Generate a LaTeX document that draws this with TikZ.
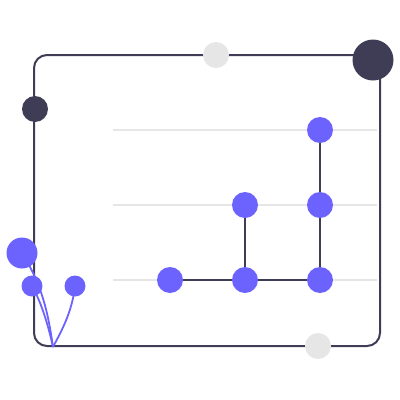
\documentclass[tikz,border=0pt]{standalone}
\definecolor{darkc}{HTML}{3F3D56}
\definecolor{purp}{HTML}{6C63FF}
\definecolor{lgray}{HTML}{E6E6E6}
\begin{document}
\begin{tikzpicture}[x=1pt,y=-1pt,
  dot/.style={circle,fill=purp,inner sep=0pt,minimum size=26pt},
  grid/.style={lgray,line width=2pt},
  link/.style={darkc,line width=2pt},
  stem/.style={purp,line width=1.8pt}]
\useasboundingbox (0,0) rectangle (400,400);
% grid lines
\foreach \y in {130,205,280} \draw[grid] (113,\y) -- (377,\y);
% frame
\draw[darkc,line width=2pt,rounded corners=13pt] (34,55) rectangle (380,346);
% decorative circles
\fill[lgray] (216,55) circle (13);
\fill[lgray] (318,346) circle (13);
\fill[darkc] (35,109) circle (13);
\fill[darkc] (373,60) circle (20.5);
% nodes
\node[dot] (a) at (320,130) {};
\node[dot] (b) at (320,205) {};
\node[dot] (c) at (245,205) {};
\node[dot] (d) at (170,280) {};
\node[dot] (e) at (245,280) {};
\node[dot] (f) at (320,280) {};
\draw[link] (a) -- (b) -- (f);
\draw[link] (c) -- (e);
\draw[link] (d) -- (e) -- (f);
% plant
\coordinate (base) at (53,347);
\node[circle,fill=purp,inner sep=0pt,minimum size=31pt] (p1) at (22,253) {};
\node[circle,fill=purp,inner sep=0pt,minimum size=21pt] (p2) at (32,286) {};
\node[circle,fill=purp,inner sep=0pt,minimum size=21pt] (p3) at (75,286) {};
\draw[stem] (base) .. controls (48,312) and (42,285) .. (p1.center);
\draw[stem] (base) .. controls (47,320) and (40,300) .. (p2.center);
\draw[stem] (base) .. controls (62,330) and (72,312) .. (p3.center);
\end{tikzpicture}
\end{document}
